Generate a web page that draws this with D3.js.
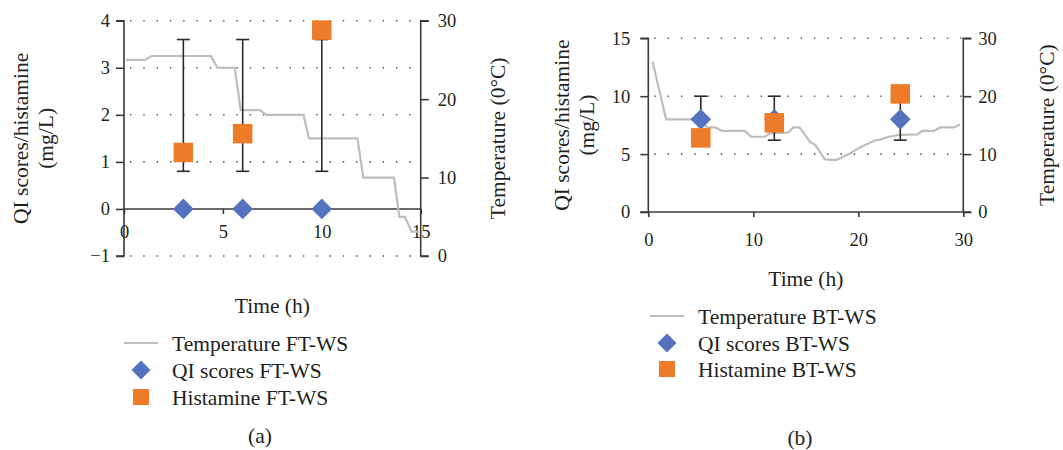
<!DOCTYPE html>
<html><head><meta charset="utf-8">
<script src="https://cdn.jsdelivr.net/npm/d3@7"></script>
<style>
body{margin:0;background:#fff}
svg{display:block}
text{font-family:"Liberation Serif","Times New Roman",serif;fill:#231f20}
</style>
</head><body>
<svg id="chart" width="1063" height="450"></svg>
<script>
// ---------- Data: panel (a) FT-WS ----------
const tempTimeA = [0.1, 1.05, 1.4, 4.4, 4.72, 5.6, 5.9, 6.87, 7.2, 9.07, 9.35, 11.8, 12.1, 13.65, 13.92, 14.2, 14.54, 14.9];
const tempA     = [25.0, 25.0, 25.5, 25.5, 24.0, 24.0, 18.6, 18.6, 18.0, 18.0, 15.0, 15.0, 10.0, 10.0, 5.0, 5.0, 3.1, 3.1];
const sampleTimeA = [3, 6, 10];
const qiA       = [0, 0, 0];
const histA     = [1.2, 1.6, 3.8];
const errLowA   = [0.8, 0.8, 0.8];
const errHighA  = [3.6, 3.6, 3.6];
const xTicksA   = [0, 5, 10, 15];
const yTicksA   = [-1, 0, 1, 2, 3, 4];
const y2TicksA  = [0, 10, 20, 30];
const legendA   = ["Temperature FT-WS", "QI scores FT-WS", "Histamine FT-WS"];

// ---------- Data: panel (b) BT-WS ----------
const tempTimeB = [0.4, 1.7, 4.9, 5.6, 6.4, 7.0, 9.2, 9.8, 11.1, 11.6, 13.3, 13.8, 14.4, 15.4, 15.9, 16.8, 17.3, 17.9, 18.4, 19.2, 20.2, 21.6, 22.1, 22.9, 23.8, 25.6, 26.1, 27.2, 27.8, 29.1, 29.7];
const tempB     = [26.0, 16.0, 16.0, 14.6, 14.6, 14.0, 14.0, 13.0, 13.0, 13.6, 13.7, 14.6, 14.6, 12.1, 11.6, 9.1, 9.0, 9.0, 9.4, 10.1, 11.2, 12.4, 12.5, 13.0, 13.3, 13.4, 14.0, 14.0, 14.6, 14.6, 15.1];
const sampleTimeB = [5, 12, 24];
const qiB       = [8, 8, 8];
const histB     = [6.4, 7.7, 10.2];
const errLowB   = [6.2, 6.2, 6.2];
const errHighB  = [10, 10, 10];
const xTicksB   = [0, 10, 20, 30];
const yTicksB   = [0, 5, 10, 15];
const y2TicksB  = [0, 10, 20, 30];
const legendB   = ["Temperature BT-WS", "QI scores BT-WS", "Histamine BT-WS"];

const yTitle  = ["QI scores/histamine", "(mg/L)"];
const y2Title = "Temperature (0°C)";
const xTitle  = "Time (h)";

// ---------- Styles ----------
const C_AXIS = "#3a3a3a", C_TEMP = "#bdbdbd", C_QI = "#5472be", C_HIS = "#ee7b27", C_ERR = "#2a2a2a";
const TICK_FS = 18.5, TITLE_FS = 21.5, LEG_FS = 21.5;

const svg = d3.select("#chart");

function panel(cfg, d) {
  const g = svg.append("g");
  const x  = d3.scaleLinear().domain(cfg.xDomain).range([cfg.left, cfg.right]);
  const y  = d3.scaleLinear().domain(cfg.yDomain).range([cfg.bottom, cfg.top]);
  const y2 = d3.scaleLinear().domain(cfg.y2Domain).range([cfg.bottom, cfg.top]);

  // dotted grid
  g.append("g").selectAll("line").data(d.yTicks.filter(v => v !== cfg.xAxisAt)).join("line")
    .attr("x1", cfg.left + 6).attr("x2", cfg.right)
    .attr("y1", v => y(v)).attr("y2", v => y(v))
    .attr("stroke", "#555").attr("stroke-width", 1.6)
    .attr("stroke-dasharray", "1.4,11.9");

  // left axis
  const la = g.append("g").attr("transform", `translate(${cfg.left},0)`)
    .call(d3.axisLeft(y).tickValues(d.yTicks).tickSize(8).tickPadding(cfg.lPad).tickFormat(d3.format("")));
  // right axis
  const ra = g.append("g").attr("transform", `translate(${cfg.right},0)`)
    .call(d3.axisRight(y2).tickValues(d.y2Ticks).tickSize(8).tickPadding(cfg.rPad));
  // bottom axis at value
  const ba = g.append("g").attr("transform", `translate(0,${y(cfg.xAxisAt)})`)
    .call(d3.axisBottom(x).tickValues(d.xTicks).tickSize(5).tickPadding(cfg.bPad));
  [la, ra, ba].forEach(a => {
    a.select(".domain").attr("stroke", C_AXIS).attr("stroke-width", 1.6);
    a.selectAll(".tick line").attr("stroke", C_AXIS).attr("stroke-width", 1.6);
    a.selectAll("text").attr("font-size", TICK_FS).attr("font-family", "Liberation Serif").attr("fill", "#231f20");
  });
  la.select(".domain").attr("d", `M-8,${cfg.top}H0V${cfg.bottom}H-8`);
  ra.select(".domain").attr("d", `M8,${cfg.top}H0V${cfg.bottom}H8`);
  ba.select(".domain").attr("d", `M${cfg.left},0H${cfg.right}`);
  la.selectAll(".tick text").text(v => v < 0 ? "\u2212" + Math.abs(v) : v);

  // temperature line
  const pts = d.tempTime.map((t, i) => [t, d.temp[i]]);
  g.append("path").datum(pts)
    .attr("d", d3.line().x(p => x(p[0])).y(p => y2(p[1])))
    .attr("fill", "none").attr("stroke", C_TEMP).attr("stroke-width", 2.2);

  // error bars
  const eb = g.append("g").attr("stroke", C_ERR).attr("stroke-width", 1.6);
  d.sampleTime.forEach((t, i) => {
    eb.append("line").attr("x1", x(t)).attr("x2", x(t)).attr("y1", y(d.errLow[i])).attr("y2", y(d.errHigh[i]));
    [d.errLow[i], d.errHigh[i]].forEach(v =>
      eb.append("line").attr("x1", x(t) - 6.5).attr("x2", x(t) + 6.5).attr("y1", y(v)).attr("y2", y(v)));
  });

  // QI diamonds
  g.append("g").selectAll("path").data(d.sampleTime).join("path")
    .attr("d", d3.symbol(d3.symbolSquare, 214)())
    .attr("transform", (t, i) => `translate(${x(t)},${y(d.qi[i])}) rotate(45)`)
    .attr("fill", C_QI);

  // histamine squares
  g.append("g").selectAll("rect").data(d.sampleTime).join("rect")
    .attr("x", t => x(t) - 9.75).attr("width", 19.5)
    .attr("y", (t, i) => y(d.hist[i]) - 9.75).attr("height", 19.5)
    .attr("fill", C_HIS);

  // axis titles
  const cy = (cfg.top + cfg.bottom) / 2;
  yTitle.forEach((s, i) => {
    g.append("text").attr("transform", `translate(${cfg.yTitleX + i * 25},${cy}) rotate(-90)`)
      .attr("text-anchor", "middle").attr("dy", "0.35em").attr("font-size", TITLE_FS).text(s);
  });
  g.append("text").attr("transform", `translate(${cfg.y2TitleX},${cy}) rotate(-90)`)
    .attr("text-anchor", "middle").attr("dy", "0.35em").attr("font-size", TITLE_FS).text(y2Title);
  g.append("text").attr("x", (cfg.left + cfg.right) / 2).attr("y", cfg.xTitleY)
    .attr("text-anchor", "middle").attr("dy", "0.35em").attr("font-size", TITLE_FS).text(xTitle);

  // legend
  const lg = g.append("g");
  const rows = cfg.legRows;
  lg.append("line").attr("x1", cfg.legSym - 17).attr("x2", cfg.legSym + 17)
    .attr("y1", rows[0]).attr("y2", rows[0]).attr("stroke", C_TEMP).attr("stroke-width", 2.2);
  lg.append("path").attr("d", d3.symbol(d3.symbolSquare, 180)())
    .attr("transform", `translate(${cfg.legSym},${rows[1]}) rotate(45)`).attr("fill", C_QI);
  lg.append("rect").attr("x", cfg.legSym - 8).attr("y", rows[2] - 8).attr("width", 16).attr("height", 16).attr("fill", C_HIS);
  d.legend.forEach((s, i) => {
    lg.append("text").attr("x", cfg.legText).attr("y", rows[i]).attr("dy", "0.35em")
      .attr("font-size", LEG_FS).text(s);
  });

  g.append("text").attr("x", cfg.labX).attr("y", cfg.labY).attr("text-anchor", "middle")
    .attr("dy", "0.35em").attr("font-size", TITLE_FS).text(cfg.label);
}

panel(
  {left: 124, right: 420.7, top: 20.7, bottom: 256, xDomain: [0, 15], yDomain: [-1, 4], y2Domain: [0, 30], xAxisAt: 0,
   lPad: 6, rPad: 9, bPad: 11, yTitleX: 20, y2TitleX: 497, xTitleY: 305,
   legRows: [343, 370, 397], legSym: 141, legText: 172, label: "(a)", labX: 260, labY: 435},
  {tempTime: tempTimeA, temp: tempA, sampleTime: sampleTimeA, qi: qiA, hist: histA, errLow: errLowA, errHigh: errHighA,
   xTicks: xTicksA, yTicks: yTicksA, y2Ticks: y2TicksA, legend: legendA}
);
panel(
  {left: 648.3, right: 963.3, top: 38.3, bottom: 212, xDomain: [0, 30], yDomain: [0, 15], y2Domain: [0, 30], xAxisAt: 0,
   lPad: 10, rPad: 7, bPad: 16, yTitleX: 561, y2TitleX: 1046, xTitleY: 278,
   legRows: [316, 343, 369], legSym: 667, legText: 698, label: "(b)", labX: 800, labY: 437},
  {tempTime: tempTimeB, temp: tempB, sampleTime: sampleTimeB, qi: qiB, hist: histB, errLow: errLowB, errHigh: errHighB,
   xTicks: xTicksB, yTicks: yTicksB, y2Ticks: y2TicksB, legend: legendB}
);
</script>
</body></html>
